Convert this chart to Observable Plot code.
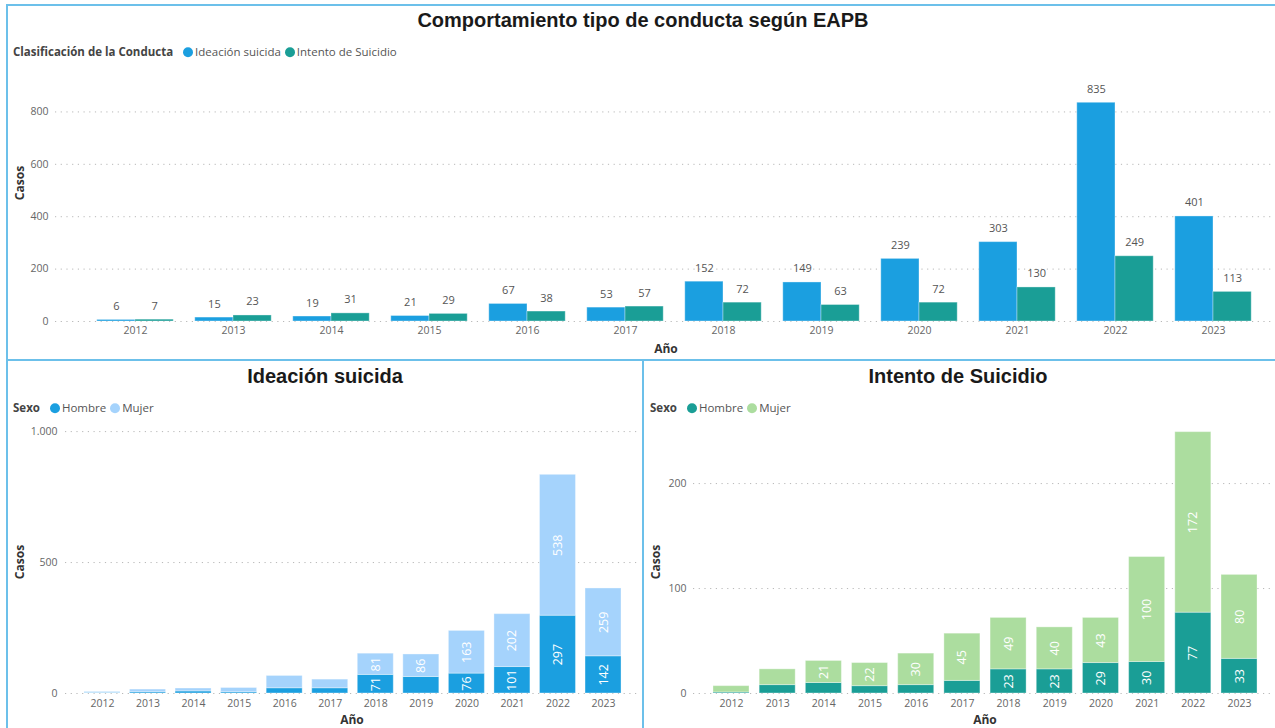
<!DOCTYPE html>
<html><head><meta charset="utf-8">
<script src="https://cdn.jsdelivr.net/npm/d3@7"></script>
<script src="https://cdn.jsdelivr.net/npm/@observablehq/plot@0.6"></script>
<style>
body{margin:0;background:#fff;font-family:"Open Sans",sans-serif}
#root{position:relative;width:1275px;height:728px;overflow:hidden;background:#fff}
.abs{position:absolute;white-space:nowrap}
.title{font-family:"Liberation Sans",Arial,sans-serif;font-weight:bold;font-size:20px;color:#1a1a1a;transform:translate(-50%,-50%);line-height:1}
.legend{font-size:11.5px;color:#555;transform:translateY(-50%);line-height:1;display:flex;align-items:center}
.legend b{color:#444;font-weight:700;margin-right:6px}
.dot{display:inline-block;width:10px;height:10px;border-radius:50%;margin-right:2px;margin-left:4px}
.axt{font-size:12px;font-weight:700;color:#333;line-height:1;transform:translate(-50%,-50%)}
.axy{font-size:12px;font-weight:700;color:#333;line-height:1;transform:translate(-50%,-50%) rotate(-90deg)}
.line{position:absolute;background:#6cc0ea}
svg{position:absolute;overflow:visible}
</style></head>
<body><div id="root"></div>
<script>
// ---------- data ----------
const years = ["2012","2013","2014","2015","2016","2017","2018","2019","2020","2021","2022","2023"];
const tipos = ["Ideación suicida","Intento de Suicidio"];
const sexos = ["Hombre","Mujer"];
const ideacionTotal = [6,15,19,21,67,53,152,149,239,303,835,401];
const intentoTotal  = [7,23,31,29,38,57,72,63,72,130,249,113];
const ideacionHombre = [2,5,8,5,20,20,71,63,76,101,297,142];
const ideacionMujer  = [4,10,11,16,47,33,81,86,163,202,538,259];
const intentoHombre  = [1,8,10,7,8,12,23,23,29,30,77,33];
const intentoMujer   = [6,15,21,22,30,45,49,40,43,100,172,80];
const topTicks = [0,200,400,600,800];
const ideTicks = [0,500,1000];
const intTicks = [0,100,200];

// ---------- colors ----------
const BLUE="#1b9fe0", TEAL="#1a9e96", LBLUE="#a5d3fc", LGREEN="#acdd9f";

const root = document.getElementById("root");
function add(html){ root.insertAdjacentHTML("beforeend", html); }

// panel borders
add(`<div class="line" style="left:6px;top:4px;width:1269px;height:2px"></div>`);
add(`<div class="line" style="left:6px;top:4px;width:2px;height:724px"></div>`);
add(`<div class="line" style="left:6px;top:359px;width:1269px;height:2px"></div>`);
add(`<div class="line" style="left:642px;top:359px;width:2px;height:369px"></div>`);

// titles / legends / axis titles
add(`<div class="abs title" style="left:643px;top:20px">Comportamiento tipo de conducta según EAPB</div>`);
add(`<div class="abs legend" style="left:13px;top:52px"><b>Clasificación de la Conducta</b><span class="dot" style="background:${BLUE}"></span>${tipos[0]}<span class="dot" style="background:${TEAL}"></span>${tipos[1]}</div>`);
add(`<div class="abs axy" style="left:20px;top:183px">Casos</div>`);
add(`<div class="abs axt" style="left:666px;top:349px">Año</div>`);

add(`<div class="abs title" style="left:325px;top:376px">Ideación suicida</div>`);
add(`<div class="abs legend" style="left:13px;top:408px"><b>Sexo</b><span class="dot" style="background:${BLUE}"></span>${sexos[0]}<span class="dot" style="background:${LBLUE}"></span>${sexos[1]}</div>`);
add(`<div class="abs axy" style="left:20px;top:562px">Casos</div>`);
add(`<div class="abs axt" style="left:352px;top:720px">Año</div>`);

add(`<div class="abs title" style="left:958px;top:376px">Intento de Suicidio</div>`);
add(`<div class="abs legend" style="left:650px;top:408px"><b>Sexo</b><span class="dot" style="background:${TEAL}"></span>${sexos[0]}<span class="dot" style="background:${LGREEN}"></span>${sexos[1]}</div>`);
add(`<div class="abs axy" style="left:656px;top:562px">Casos</div>`);
add(`<div class="abs axt" style="left:985px;top:720px">Año</div>`);

const esFmt = d3.formatLocale({decimal:",", thousands:".", grouping:[3], currency:["","€"]}).format(",");
const plotStyle = {fontFamily:"'Open Sans',sans-serif", fontSize:"10.5px", color:"#666", background:"transparent", overflow:"visible"};
const grid = (ticks) => Plot.ruleY(ticks, {stroke:"#b8b8b8", strokeDasharray:"1.2,4.5", strokeWidth:1});

// ---------- top grouped chart ----------
const topData = [];
years.forEach((y,i)=>{
  topData.push({year:y, tipo:tipos[0], casos:ideacionTotal[i]});
  topData.push({year:y, tipo:tipos[1], casos:intentoTotal[i]});
});
const step1 = (1262-86)/12, bw1 = step1*0.78;
const topPlot = Plot.plot({
  width:1275, height:298, marginLeft:55, marginRight:3, marginTop:18, marginBottom:39,
  style:plotStyle,
  x:{domain:years, range:[86,1262], round:false, paddingInner:0.22, paddingOuter:0.11, label:null, tickSize:0, tickPadding:5},
  y:{domain:[0,920], ticks:topTicks, label:null, tickSize:0, tickPadding:7},
  marks:[
    grid(topTicks),
    Plot.barY(topData.filter(d=>d.tipo===tipos[0]), {x:"year", y:"casos", fill:BLUE, insetRight:bw1/2, stroke:"#fff", strokeOpacity:0.35}),
    Plot.barY(topData.filter(d=>d.tipo===tipos[1]), {x:"year", y:"casos", fill:TEAL, insetLeft:bw1/2, stroke:"#fff", strokeOpacity:0.35}),
    Plot.text(topData.filter(d=>d.tipo===tipos[0]), {x:"year", y:"casos", text:d=>String(d.casos), dx:-bw1/4, dy:-10, lineAnchor:"bottom", fill:"#555", fontSize:11}),
    Plot.text(topData.filter(d=>d.tipo===tipos[1]), {x:"year", y:"casos", text:d=>String(d.casos), dx:bw1/4, dy:-10, lineAnchor:"bottom", fill:"#555", fontSize:11})
  ]
});
topPlot.style.left="0px"; topPlot.style.top="62px";
root.appendChild(topPlot);

// ---------- stacked charts ----------
function stacked({hombre, mujer, colors, ticks, ymax, range, padI, padO, width, marginLeft, marginRight, tickPad, minLabel, left, fmt}){
  const data = [];
  years.forEach((y,i)=>{
    data.push({year:y, sexo:sexos[0], casos:hombre[i]});
    data.push({year:y, sexo:sexos[1], casos:mujer[i]});
  });
  const p = Plot.plot({
    width, height:313, marginLeft, marginRight, marginTop:3, marginBottom:35,
    style:plotStyle,
    x:{domain:years, range, round:false, paddingInner:padI, paddingOuter:padO, label:null, tickSize:0, tickPadding:6},
    y:{domain:[0,ymax], ticks, label:null, tickSize:0, tickPadding:tickPad, tickFormat:fmt},
    color:{domain:sexos, range:colors},
    marks:[
      grid(ticks),
      Plot.barY(data, {x:"year", y:"casos", fill:"sexo", order:sexos, stroke:"#fff", strokeOpacity:0.35}),
      Plot.text(data, Plot.stackY({x:"year", y:"casos", z:"sexo", order:sexos,
        text:d=>d.casos>=minLabel?String(d.casos):null, rotate:-90, fill:"#fff", fontSize:12.5}))
    ]
  });
  p.style.left=left+"px"; p.style.top="415px";
  root.appendChild(p);
}
stacked({hombre:ideacionHombre, mujer:ideacionMujer, colors:[BLUE,LBLUE], ticks:ideTicks, ymax:1050,
  range:[79.2,625.8], padI:0.21, padO:0.105, width:643, marginLeft:65, marginRight:5, tickPad:8, minLabel:70, left:0, fmt:esFmt});
stacked({hombre:intentoHombre, mujer:intentoMujer, colors:[TEAL,LGREEN], ticks:intTicks, ymax:262,
  range:[64.9,619.1], padI:0.22, padO:0.11, width:632, marginLeft:50, marginRight:3, tickPad:7, minLabel:20, left:643, fmt:esFmt});
</script>
</body></html>
